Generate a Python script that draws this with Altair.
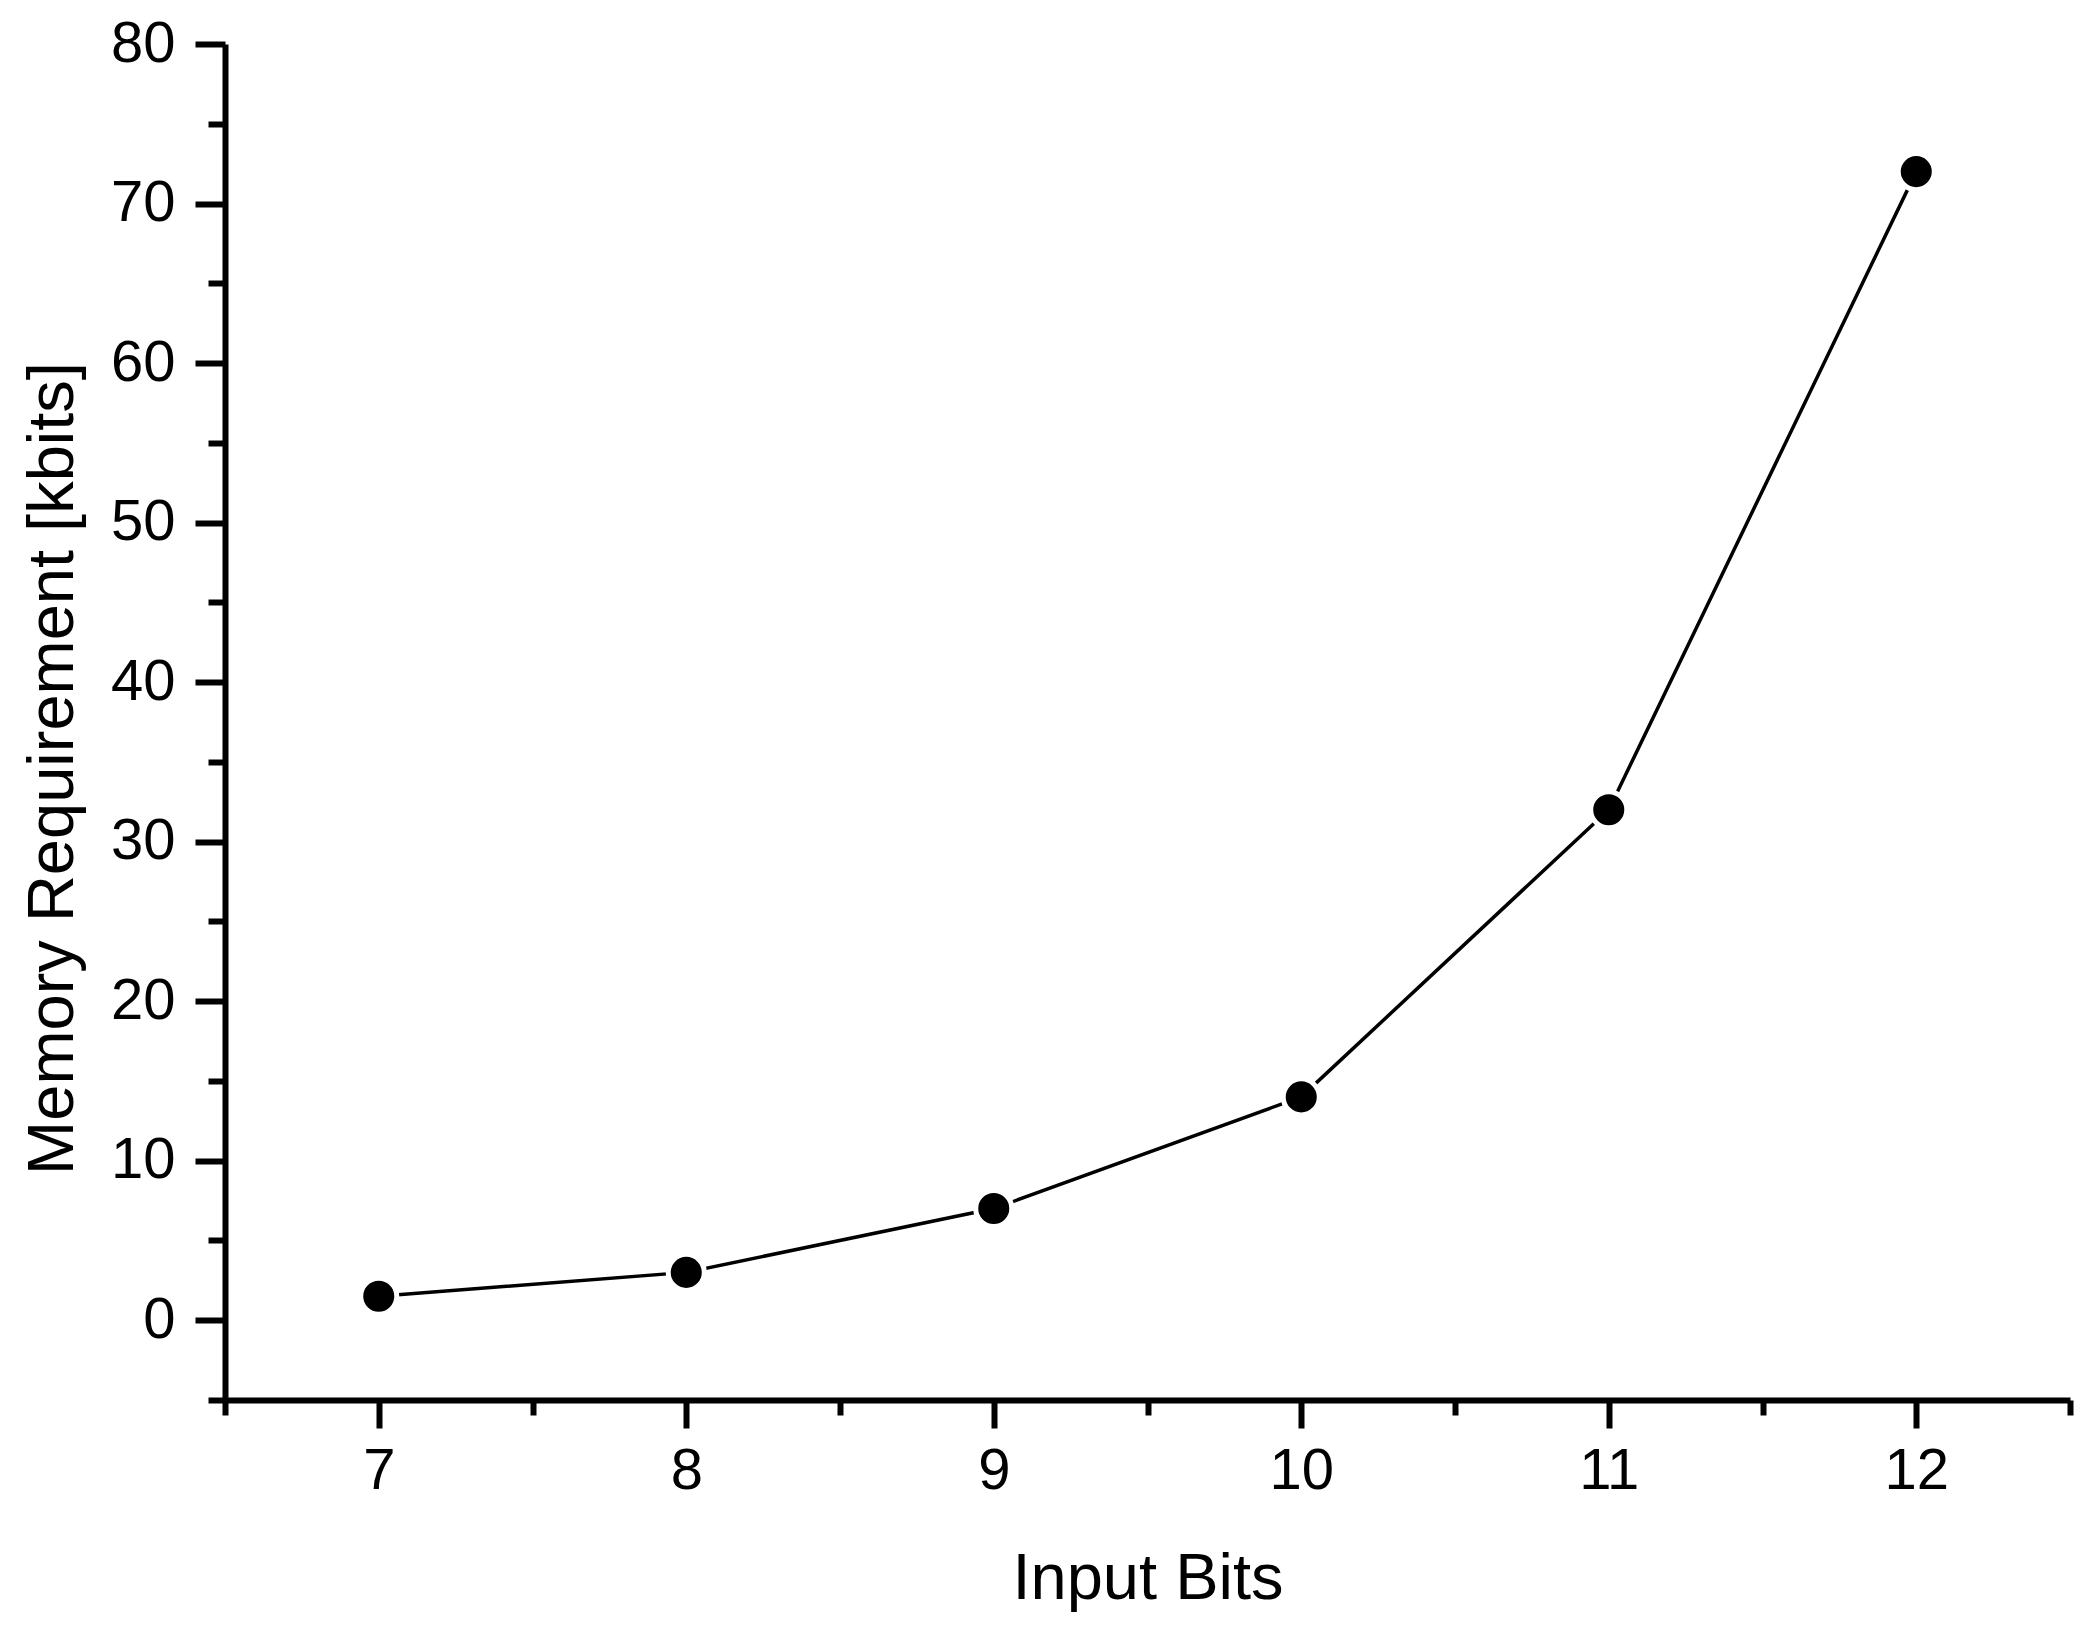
import altair as alt
import pandas as pd

# Data
input_bits = [7, 8, 9, 10, 11, 12]
memory_kbits = [1.5, 3, 7, 14, 32, 72]

# Tick values
x_major = [7, 8, 9, 10, 11, 12]
x_minor = [6.5, 7.5, 8.5, 9.5, 10.5, 11.5, 12.5]
y_major = [0, 10, 20, 30, 40, 50, 60, 70, 80]
y_minor = [-5, 5, 15, 25, 35, 45, 55, 65, 75]

df = pd.DataFrame({"bits": input_bits, "mem": memory_kbits})

FONT = "Liberation Sans"
x_scale = alt.Scale(domain=[6.5, 12.5], nice=False, zero=False)
y_scale = alt.Scale(domain=[-5, 80], nice=False, zero=False)

line = alt.Chart(df).mark_line(color="black", strokeWidth=3.5).encode(
    x=alt.X("bits:Q", scale=x_scale,
            axis=alt.Axis(orient="bottom", values=x_major, tickSize=28,
                          labelPadding=14, labelFontSize=58, labelFont=FONT,
                          title="Input Bits", titleFontSize=65, titleFont=FONT,
                          titleFontWeight="normal", titleY=198,
                          titleBaseline="alphabetic", format="d")),
    y=alt.Y("mem:Q", scale=y_scale,
            axis=alt.Axis(orient="left", values=y_major, tickSize=30,
                          labelPadding=20, labelFontSize=58, labelFont=FONT,
                          title="Memory Requirement [kbits]", titleFontSize=65,
                          titleFont=FONT, titleFontWeight="normal",
                          titleX=-153, titleY=724, titleAngle=270,
                          titleAlign="center", titleBaseline="alphabetic",
                          format="d")),
)

points = alt.Chart(df).mark_point(
    shape="circle", fill="black", stroke="white", strokeWidth=5,
    fillOpacity=1, strokeOpacity=1, size=1300,
).encode(
    x=alt.X("bits:Q", scale=x_scale,
            axis=alt.Axis(orient="bottom", values=x_minor, tickSize=15,
                          labels=False, domain=False, title=None)),
    y=alt.Y("mem:Q", scale=y_scale,
            axis=alt.Axis(orient="left", values=y_minor, tickSize=17,
                          labels=False, domain=False, title=None)),
)

chart = alt.layer(line, points).resolve_axis(
    x="independent", y="independent"
).properties(
    width=1845,
    height=1356,
    autosize=alt.AutoSizeParams(type="none"),
    padding={"left": 217, "top": 36, "right": 16, "bottom": 219},
).configure_view(stroke=None).configure_axis(
    grid=False,
    domainColor="black",
    domainWidth=6,
    tickColor="black",
    tickWidth=6,
    labelColor="black",
    titleColor="black",
)

chart.save("out.html", embed_options={"renderer": "svg", "actions": False})
